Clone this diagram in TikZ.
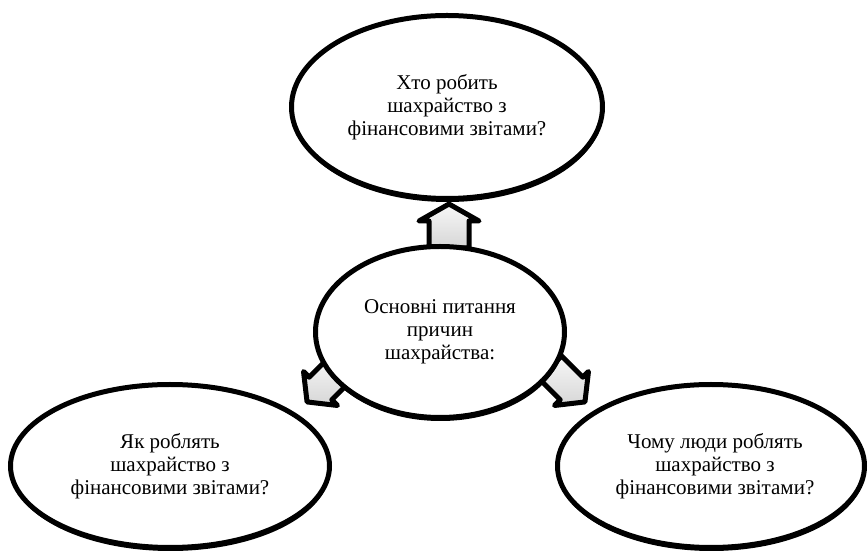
\documentclass[tikz,border=0pt]{standalone}
\usepackage{fontspec}
\setmainfont{Liberation Serif}
\usetikzlibrary{shapes.geometric,shadows,calc,backgrounds}
% #1 start point, #2 rotation, #3 shaft length, #4 head length, #5 shaft half width, #6 head half width
\newcommand\blockarr[6]{\draw[barrow, shift={(#1)}, rotate=#2] (0,-#5) -- (#3,-#5) -- (#3,-#6) -- ({#3+#4},0) -- (#3,#6) -- (#3,#5) -- (0,#5) -- cycle;}
\begin{document}
\begin{tikzpicture}[x=1pt,y=1pt,
  bubble/.style={ellipse, draw=black, line width=5pt, fill=white, align=center,
    font=\fontsize{21}{23}\selectfont, inner sep=0pt,
    drop shadow={shadow xshift=0.5pt, shadow yshift=-3.5pt, opacity=1, fill=black}},
  barrow/.style={draw=black, line width=5pt, line join=round, top color=gray!6, bottom color=gray!32}
]
\useasboundingbox (0,0) rectangle (868,557);
\node[bubble, minimum width=311pt, minimum height=183pt] (who) at (447,450) {Хто робить\\шахрайство з\\фінансовими звітами?};
\node[bubble, minimum width=249pt, minimum height=171pt] (core) at (440,225) {Основні питання\\причин\\шахрайства:};
\node[bubble, minimum width=319pt, minimum height=163pt] (how) at (170,91) {Як роблять\\шахрайство з\\фінансовими звітами?};
\node[bubble, minimum width=307pt, minimum height=163pt] (why) at (711,91) {\hspace*{8pt}Чому люди роблять\\\hspace*{8pt}шахрайство з\\\hspace*{8pt}фінансовими звітами?};
\begin{pgfonlayer}{background}
\blockarr{$(core.north)+(9,-4)$}{90}{27}{17}{20}{30}
\blockarr{$(core.center)+(110.3,-35.3)$}{-45}{30}{19}{16}{24}
\blockarr{$(core.center)+(-98.3,-35.3)$}{-135}{30}{19}{16}{24}
\end{pgfonlayer}
\end{tikzpicture}
\end{document}
